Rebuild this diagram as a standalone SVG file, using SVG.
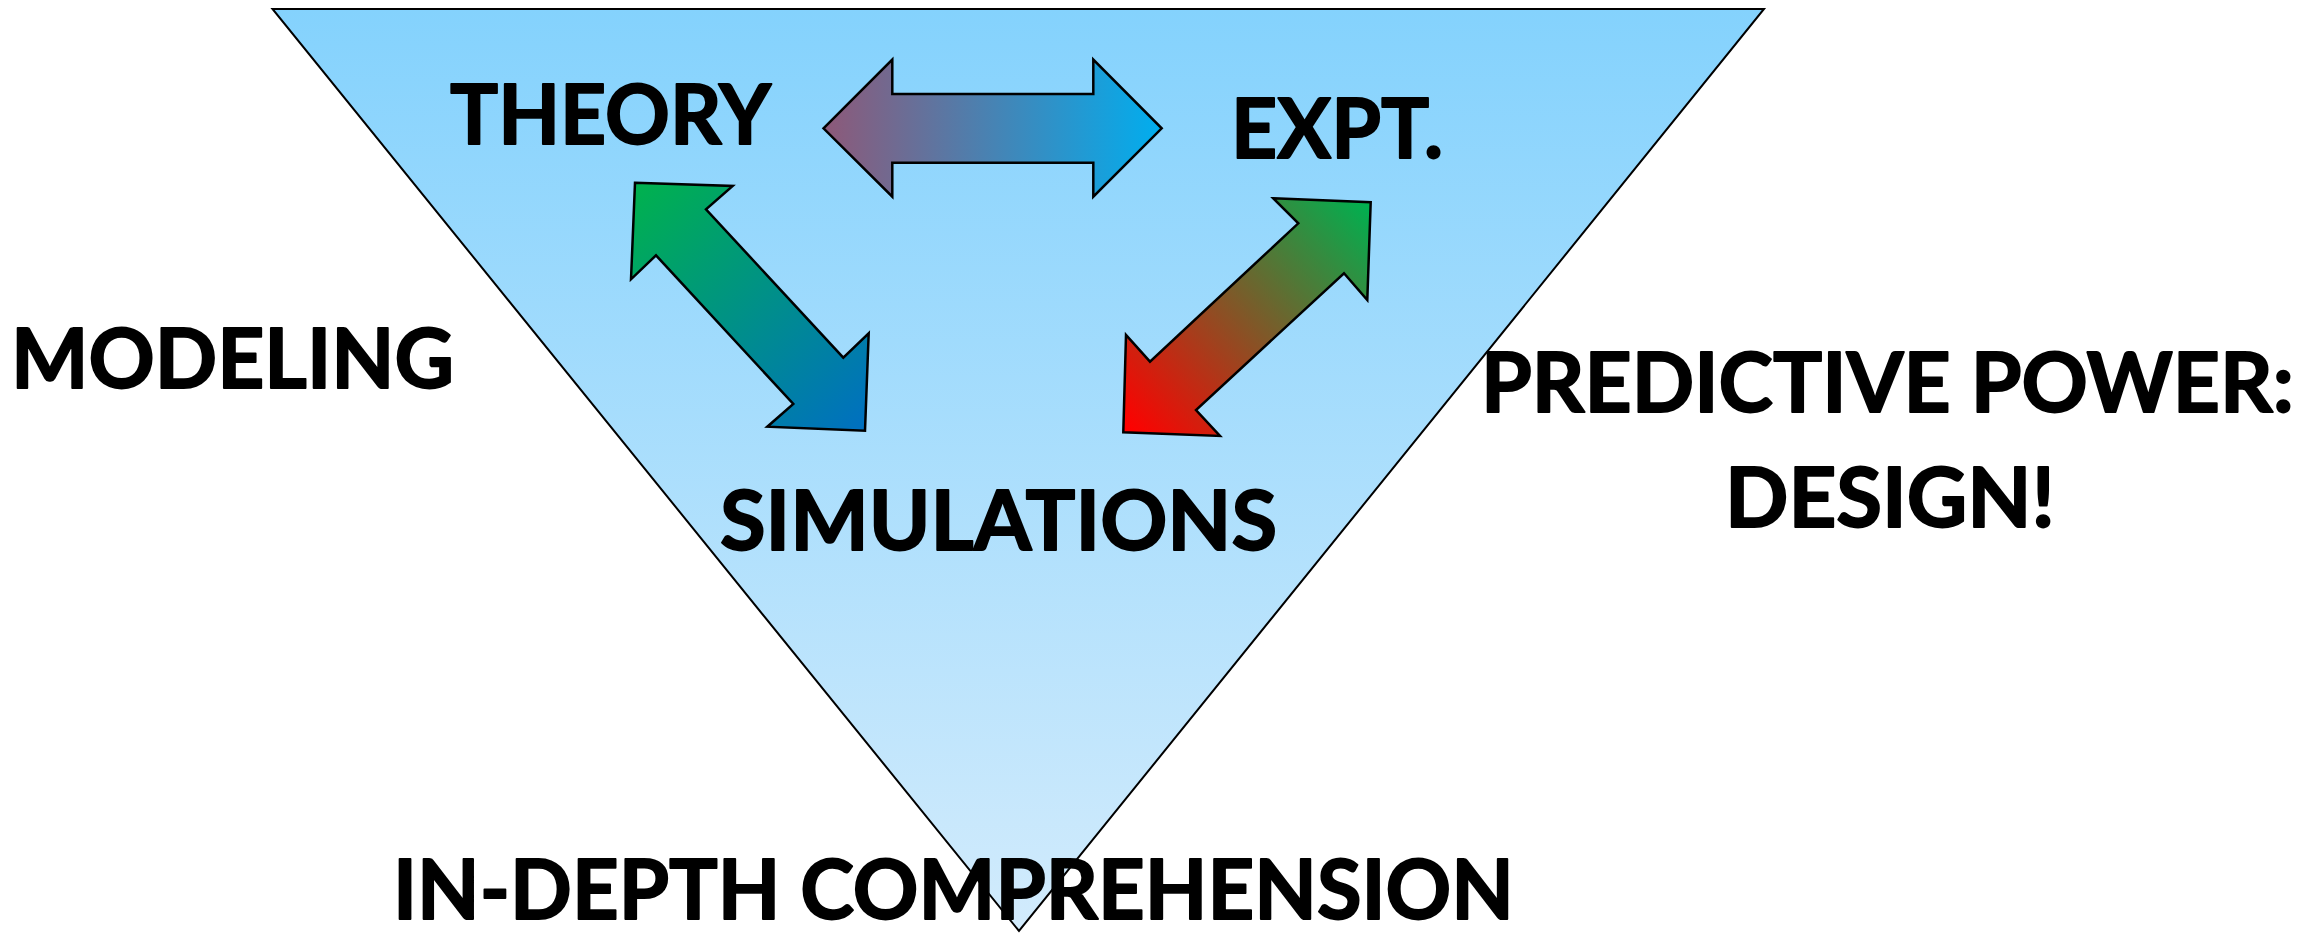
<svg xmlns="http://www.w3.org/2000/svg" width="2309" height="933" viewBox="0 0 2309 933">
  <defs>
    <linearGradient id="triFill" x1="0" y1="0" x2="0" y2="1">
      <stop offset="0" stop-color="#84D2FD"/>
      <stop offset="1" stop-color="#D2EBFC"/>
    </linearGradient>
    <linearGradient id="gHoriz" gradientUnits="userSpaceOnUse" x1="823" y1="128" x2="1162" y2="128">
      <stop offset="0" stop-color="#8E5878"/>
      <stop offset="1" stop-color="#00AEEF"/>
    </linearGradient>
    <linearGradient id="gLeft" gradientUnits="userSpaceOnUse" x1="640" y1="190" x2="862" y2="428">
      <stop offset="0" stop-color="#00B050"/>
      <stop offset="1" stop-color="#0070C0"/>
    </linearGradient>
    <linearGradient id="gRight" gradientUnits="userSpaceOnUse" x1="1128" y1="430" x2="1368" y2="205">
      <stop offset="0" stop-color="#FF0000"/>
      <stop offset="1" stop-color="#00B050"/>
    </linearGradient>
  </defs>
  <style>
    .lbl { font-family: "Lato", "Open Sans", sans-serif; font-weight: 700; font-size: 83px; fill: #000; stroke: #000; stroke-width: 1.8; stroke-linejoin: round; }
    .arrow { stroke: #000; stroke-width: 2.5; stroke-linejoin: miter; }
    .tri { fill: url(#triFill); stroke: #000; stroke-width: 2; }
  </style>
  <rect width="2309" height="933" fill="#FFFFFF"/>

  <g id="triangle">
    <polygon class="tri" points="272.5,9 1764,9 1019,931"/>
  </g>

  <g id="connectors">
    <polygon class="arrow" fill="url(#gHoriz)" points="823.5,128.3 892.3,59.5 892.3,94 1093.3,94 1093.3,59.5 1161.7,128.3 1093.3,196.7 1093.3,162.7 892.3,162.7 892.3,196.7"/>
    <polygon class="arrow" fill="url(#gLeft)" points="635,182.7 732.7,186 706,209.3 843.3,357.7 868.7,333.3 865,430.7 767.3,426.7 793.3,404 656,255.3 631,279.3"/>
    <polygon class="arrow" fill="url(#gRight)" points="1273.3,198.3 1370.7,202.3 1367.3,300 1344,273.3 1196,410 1220,436 1123.3,432.3 1126,335 1150,361.7 1298.3,223.3"/>
  </g>

  <g id="theory">
    <text class="lbl" x="450" y="143.5" textLength="321" lengthAdjust="spacingAndGlyphs">THEORY</text>
  </g>
  <g id="expt">
    <text class="lbl" x="1231" y="157.5" textLength="212" lengthAdjust="spacingAndGlyphs">EXPT.</text>
  </g>
  <g id="simulations">
    <text class="lbl" x="720" y="550" textLength="557" lengthAdjust="spacingAndGlyphs">SIMULATIONS</text>
  </g>
  <g id="modeling">
    <text class="lbl" x="11" y="387.5" textLength="443" lengthAdjust="spacingAndGlyphs">MODELING</text>
  </g>
  <g id="predictive">
    <text class="lbl" x="1481" y="411.5" textLength="813" lengthAdjust="spacingAndGlyphs">PREDICTIVE POWER:</text>
    <text class="lbl" x="1725" y="527" textLength="330" lengthAdjust="spacingAndGlyphs">DESIGN!</text>
  </g>
  <g id="comprehension">
    <text class="lbl" x="393" y="918.5" textLength="1121" lengthAdjust="spacingAndGlyphs">IN-DEPTH COMPREHENSION</text>
  </g>
</svg>
